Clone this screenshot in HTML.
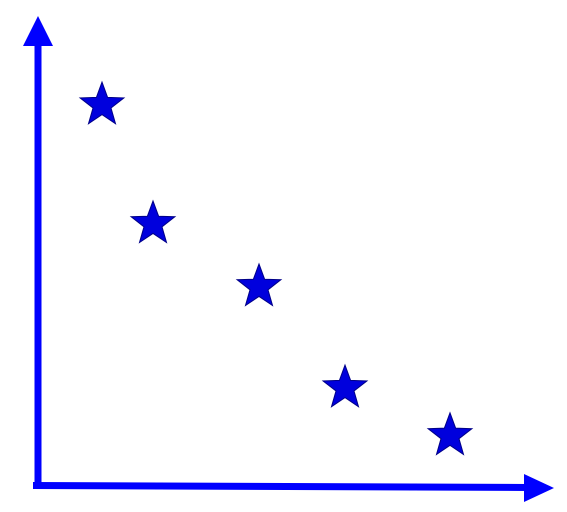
<!DOCTYPE html>
<html>
<head>
<meta charset="utf-8">
<style>
html,body{margin:0;padding:0;background:#fff;}
svg{display:block;}
</style>
</head>
<body>
<svg id="chart" width="567" height="512" viewBox="0 0 567 512" xmlns="http://www.w3.org/2000/svg">
  <g>
    <line x1="38" y1="488" x2="38" y2="40" stroke="#0000ff" stroke-width="7"/>
    <polygon points="38,16 23,46 53,46" fill="#0000ff"/>
  </g>
  <g>
    <line x1="33" y1="485.5" x2="528" y2="487.5" stroke="#0000ff" stroke-width="7"/>
    <polygon points="554,488 524,474 524,502" fill="#0000ff"/>
  </g>
  <g id="marks"></g>
</svg>
<script>
const xValues = [1.28, 2.3, 4.42, 6.14, 8.24];
const yValues = [8.51, 5.87, 4.47, 2.22, 1.16];

function xScale(v){ return 38 + v * 50; }
function yScale(v){ return 486 - v * 45; }

function starPoints(cx, cy, ro, ri){
  const pts = [];
  for (let i = 0; i < 10; i++) {
    const r = i % 2 === 0 ? ro : ri;
    const a = -Math.PI / 2 + i * Math.PI / 5;
    pts.push((cx + r * Math.cos(a)).toFixed(1) + ',' + (cy + r * Math.sin(a)).toFixed(1));
  }
  return pts.join(' ');
}

const g = document.getElementById('marks');
for (let i = 0; i < xValues.length; i++) {
  const p = document.createElementNS('http://www.w3.org/2000/svg', 'polygon');
  p.setAttribute('points', starPoints(xScale(xValues[i]), yScale(yValues[i]) + 2, 23, 9.5));
  p.setAttribute('fill', '#0000dd');
  p.setAttribute('stroke', '#000088');
  p.setAttribute('stroke-width', '1');
  
  
  g.appendChild(p);
}
</script>
</body>
</html>
